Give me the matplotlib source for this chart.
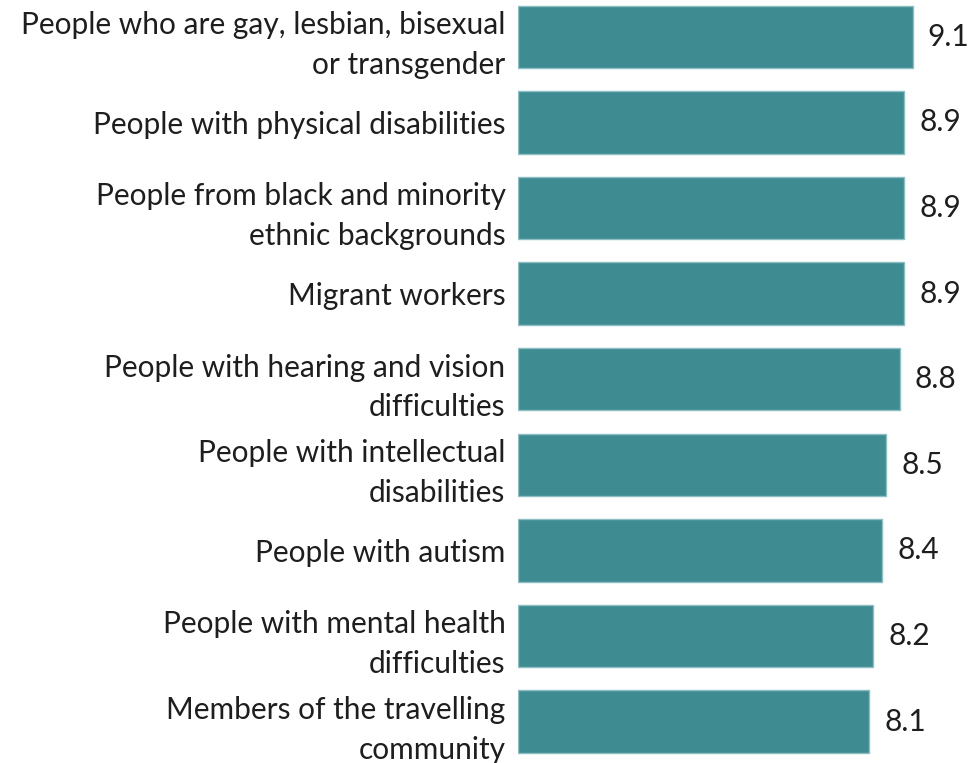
import matplotlib
matplotlib.use("Agg")
import matplotlib.pyplot as plt

categories = [
    "People who are gay, lesbian, bisexual\nor transgender",
    "People with physical disabilities",
    "People from black and minority\nethnic backgrounds",
    "Migrant workers",
    "People with hearing and vision\ndifficulties",
    "People with intellectual\ndisabilities",
    "People with autism",
    "People with mental health\ndifficulties",
    "Members of the travelling\ncommunity",
]
scores = [9.1, 8.9, 8.9, 8.9, 8.8, 8.5, 8.4, 8.2, 8.1]
score_labels = ["9.1", "8.9", "8.9", "8.9", "8.8", "8.5", "8.4", "8.2", "8.1"]

BAR_COLOR = "#3E8B91"
EDGE_COLOR = "#8CBFC3"
TEXT_COLOR = "#1E1E1E"
FONT = ["Lato", "DejaVu Sans"]

W, H = 968, 763
fig = plt.figure(figsize=(W / 100, H / 100), dpi=100)
ax = fig.add_axes([518 / W, 0, 450 / W, 1])

pos = list(range(len(categories)))
bars = ax.barh(pos, scores, height=0.73, color=BAR_COLOR,
               edgecolor=EDGE_COLOR, linewidth=1.0)

ax.set_xlim(0, 10.38)
ax.set_ylim(8.484, -0.43)

ax.set_yticks(pos)
ax.set_yticklabels(categories, fontsize=21.5, family=FONT, color=TEXT_COLOR,
                   ha="right", multialignment="right", linespacing=1.5)
ax.tick_params(axis="y", length=0, pad=9)
ax.set_xticks([])
for s in ax.spines.values():
    s.set_visible(False)

ax.bar_label(bars, labels=score_labels, padding=11, fontsize=21.5,
             family=FONT, color=TEXT_COLOR)

fig.savefig("out.png", dpi=100, facecolor="white")
